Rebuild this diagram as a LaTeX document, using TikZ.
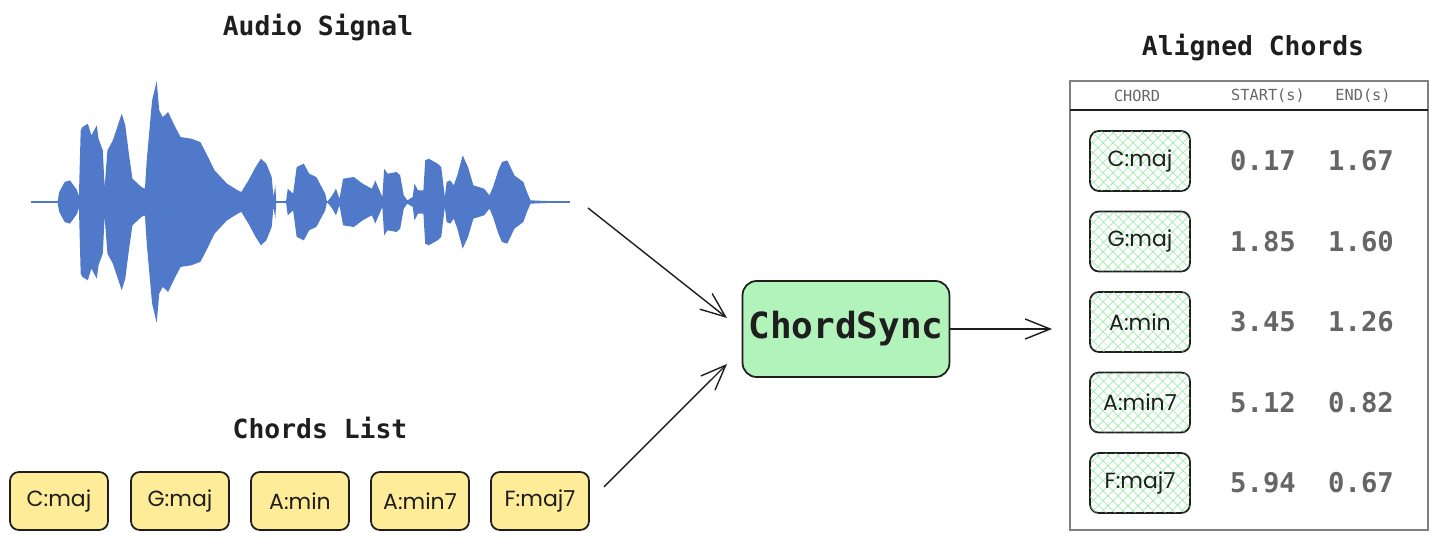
\documentclass[tikz,border=0pt]{standalone}
\usepackage{fontspec}
\setmonofont{DejaVu Sans Mono}
\newfontfamily\handfont{Poppins}
\usetikzlibrary{arrows.meta,positioning,patterns.meta}
\definecolor{inkk}{HTML}{1E1E1E}
\definecolor{wave}{HTML}{5079C9}
\definecolor{chordy}{HTML}{FFEC99}
\definecolor{syncg}{HTML}{B2F2BB}
\definecolor{hatchg}{HTML}{8CE99A}
\definecolor{numg}{HTML}{666666}
\definecolor{rule}{HTML}{808080}

% upper envelope of the waveform (the lower one is its mirror)
\newcommand{\wavetop}{(30,0) (105,0) (110,-30) (125,-60) (140,-65) (160,-35) (165,-15)
  (170,-215) (175,-225) (190,-235) (200,-200) (215,-230) (220,-190) (232,-155) (237,-45)
  (245,-155) (260,-185) (285,-265) (295,-230) (305,-145) (315,-70) (340,-45) (350,-40)
  (355,-125) (370,-305) (383,-363) (390,-275) (400,-255) (415,-270) (435,-225) (450,-195)
  (480,-190) (505,-180) (520,-150) (545,-95) (580,-55) (610,-35) (620,-30) (640,-65)
  (660,-105) (675,-130) (690,-115) (705,-75) (710,-15) (715,-50) (718,0) (745,0) (750,-40)
  (765,-25) (775,-105) (795,-115) (810,-85) (830,-75) (855,-25) (860,0) (875,-20) (885,-40)
  (895,-10) (905,-70) (935,-75) (960,-55) (985,-40) (990,-50) (995,-65) (1005,-40)
  (1015,-15) (1020,-100) (1030,-85) (1055,-90) (1065,-80) (1075,-20) (1085,-5) (1100,-15)
  (1105,-55) (1115,-35) (1130,-35) (1135,-125) (1145,-130) (1170,-115) (1180,-105)
  (1190,-15) (1195,-60) (1205,-65) (1215,-50) (1225,-80) (1240,-140) (1255,-105)
  (1270,-50) (1300,-40) (1315,-20) (1325,-45) (1340,-95) (1350,-120) (1365,-125)
  (1385,-80) (1410,-60) (1420,-30) (1430,-5) (1540,0)}

\begin{document}
\begin{tikzpicture}[x=0.02cm, y=-0.02cm,
      node distance=0.4cm and 0.4cm,
      title/.style={font=\ttfamily\bfseries\fontsize{15}{18}\selectfont, text=inkk},
      chordbox/.style={draw=inkk, line width=1pt, fill=chordy, rounded corners=5pt,
        minimum width=1.96cm, minimum height=1.16cm, font=\handfont\fontsize{12.5}{15}\selectfont, text=inkk},
      chordcell/.style={draw=inkk, line width=1pt, rounded corners=5pt,
        pattern={Lines[angle=45,distance=4pt,line width=0.4pt]}, pattern color=hatchg,
        postaction={pattern={Lines[angle=-45,distance=4pt,line width=0.4pt]}, pattern color=hatchg},
        minimum width=2cm, minimum height=1.2cm, font=\handfont\fontsize{12.5}{15}\selectfont, text=inkk},
      syncbox/.style={draw=inkk, line width=1pt, fill=syncg, rounded corners=8pt,
        minimum width=4.06cm, minimum height=1.92cm, font=\ttfamily\bfseries\fontsize{20.5}{24}\selectfont, text=inkk},
      head/.style={font=\ttfamily\fontsize{8.7}{10}\selectfont, text=numg},
      num/.style={font=\ttfamily\bfseries\fontsize{15.5}{18}\selectfont, text=numg},
      arr/.style={-{Straight Barb[length=0.5cm, width=0.4cm, line width=0.8pt]}, line width=0.8pt, color=inkk}]
    \useasboundingbox (0,0) rectangle (1440,540);

    % audio input
    \node[title] (audiotitle) at (318,28) {Audio Signal};
    \begin{scope}[shift={(20,202)}, xscale=0.357, yscale=0.333]
      \draw[wave, line width=0.6pt] (30,0) -- (1540,0);
      \fill[wave] plot coordinates {\wavetop} -- cycle;
      \fill[wave, yscale=-1] plot coordinates {\wavetop} -- cycle;
    \end{scope}
    \coordinate (waveout) at (588,208);

    % chord list input
    \node[title] (listtitle) at (320,428) {Chords List};
    \node[chordbox] (c1) at (59,501) {C:maj};
    \node[chordbox] (c2) at (180,501) {G:maj};
    \node[chordbox] (c3) at (300,501) {A:min};
    \node[chordbox] (c4) at (420,501) {A:min7};
    \node[chordbox] (c5) at (540,501) {F:maj7};

    % aligner
    \node[syncbox] (sync) at (846,329) {ChordSync};
    \coordinate (syncin1) at (727,318);
    \coordinate (syncin2) at (727,364);
    \draw[arr] (waveout) -- (syncin1);
    \draw[arr, shorten <=0.4cm] (c5.east) -- (syncin2);

    % output table
    \node[title] (outtitle) at (1253,48) {Aligned Chords};
    \draw[rule, line width=1pt] (1070,81) rectangle (1428,530);
    \draw[inkk, line width=1pt] (1070,110) -- (1428,110);
    \node[head] (hchord) at (1137,96) {CHORD};
    \node[head] (hstart) at (1268,96) {START(s)};
    \node[head] (hend) at (1363,96) {END(s)};
    \coordinate (tablein) at (1052,329);
    \draw[arr] (sync.east) -- (tablein);

    \foreach \nm/\st/\en [count=\i] in {C:maj/0.17/1.67, G:maj/1.85/1.60, A:min/3.45/1.26,
        A:min7/5.12/0.82, F:maj7/5.94/0.67} {
      \node[chordcell] (r\i) at (1140,{161+(\i-1)*80.5}) {\nm};
      \node[num] (s\i) at (1263,{161+(\i-1)*80.5}) {\st};
      \node[num] (e\i) at (1361,{161+(\i-1)*80.5}) {\en};
    }
  \end{tikzpicture}
\end{document}
